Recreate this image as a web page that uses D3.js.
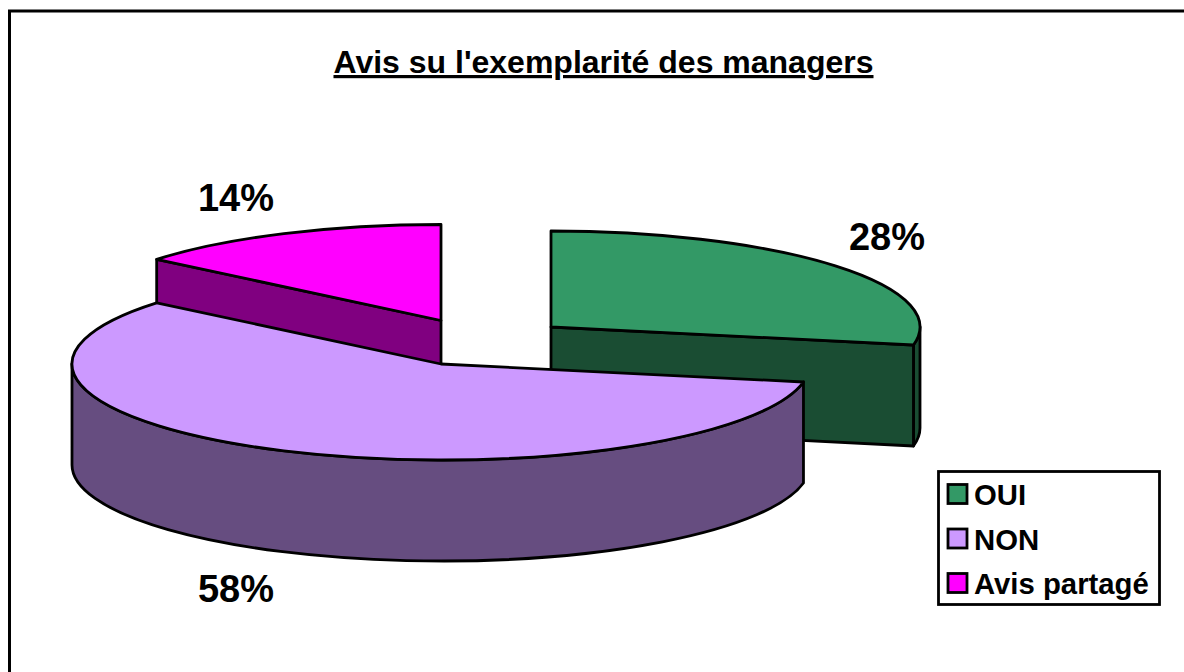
<!DOCTYPE html>
<html>
<head>
<meta charset="utf-8">
<script src="https://cdn.jsdelivr.net/npm/d3@7"></script>
<style>
  html, body { margin: 0; padding: 0; background: #fff; }
  svg { display: block; }
  text { font-family: "Liberation Sans", Arial, sans-serif; font-weight: bold; fill: #000; }
</style>
</head>
<body>
<div id="chart"></div>
<script>
// chart values
const categories = ["OUI", "NON", "Avis partagé"];
const percents = [28, 58, 14];
const chartTitle = "Avis su l'exemplarité des managers";

// colours, one per slice
const topColors = ["#339966", "#CC99FF", "#FF00FF"];
const sideColors = ["#1A4D33", "#664D80", "#800080"];

const width = 1184, height = 672;
const rx = 369, ry = 96, depth = 101;

// slice apex on screen, slices are pulled apart in the original
const centers = [[551, 327], [441, 364], [441, 320.5]];
const labelPos = [[887, 237], [236, 589], [236, 198]];
const drawOrder = [0, 2, 1];

const svg = d3.select("#chart").append("svg")
    .attr("width", width)
    .attr("height", height);

// frame, only top and left are inside the picture
svg.append("path")
    .attr("d", `M9.5,${height}V11H${width}`)
    .attr("fill", "none")
    .attr("stroke", "#000")
    .attr("stroke-width", 3);

svg.append("text")
    .attr("x", 603.5)
    .attr("y", 73)
    .attr("text-anchor", "middle")
    .style("font-size", "32px")
    .style("text-decoration", "underline")
    .text(chartTitle);

// same angles as d3.arc: 0 at the top, clockwise
const slices = d3.pie().sort(null)(percents);

function rim(c, t, dy = 0) {
    return [c[0] + rx * Math.sin(t), c[1] + dy - ry * Math.cos(t)];
}

function ellipseTo(c, t0, t1, dy = 0) {
    const p = rim(c, t1, dy);
    const large = Math.abs(t1 - t0) > Math.PI ? 1 : 0;
    const sweep = t1 > t0 ? 1 : 0;
    return `A${rx},${ry} 0 ${large} ${sweep} ${p[0]},${p[1]}`;
}

const pie = svg.append("g")
    .attr("stroke", "#000")
    .attr("stroke-width", 2.8)
    .attr("stroke-linejoin", "round");

drawOrder.forEach(i => {
    const s = slices[i], c = centers[i];

    // outer wall, only the part facing the viewer
    const a = Math.max(s.startAngle, Math.PI / 2);
    const b = Math.min(s.endAngle, Math.PI * 1.5);
    if (b > a) {
        const p = rim(c, a);
        const q = rim(c, b, depth);
        pie.append("path")
            .attr("fill", sideColors[i])
            .attr("d", `M${p}${ellipseTo(c, a, b)}L${q}${ellipseTo(c, b, a, depth)}Z`);
    }

    // cut faces that turn towards the viewer
    const faces = [];
    if (s.endAngle < Math.PI) faces.push(s.endAngle);
    if (s.startAngle > Math.PI) faces.push(s.startAngle);
    faces.forEach(t => {
        const p = rim(c, t);
        pie.append("path")
            .attr("fill", sideColors[i])
            .attr("d", `M${c}L${p}v${depth}L${c[0]},${c[1] + depth}Z`);
    });

    // top of the slice
    const p0 = rim(c, s.startAngle);
    pie.append("path")
        .attr("fill", topColors[i])
        .attr("d", `M${c}L${p0}${ellipseTo(c, s.startAngle, s.endAngle)}Z`);
});

svg.append("g").selectAll("text")
    .data(percents)
    .join("text")
    .attr("x", (d, i) => labelPos[i][0])
    .attr("y", (d, i) => labelPos[i][1] + 13)
    .attr("text-anchor", "middle")
    .style("font-size", "38px")
    .text(d => d + "%");

// legend
const legend = svg.append("g");
legend.append("rect")
    .attr("x", 938.5)
    .attr("y", 471.5)
    .attr("width", 221)
    .attr("height", 133)
    .attr("fill", "#fff")
    .attr("stroke", "#000")
    .attr("stroke-width", 2.8);

const legendY = d3.scalePoint().domain(categories).range([494, 583]);

legend.selectAll("rect.swatch")
    .data(categories)
    .join("rect")
    .attr("class", "swatch")
    .attr("x", 948)
    .attr("y", d => legendY(d) - 9.5)
    .attr("width", 19)
    .attr("height", 19)
    .attr("fill", (d, i) => topColors[i])
    .attr("stroke", "#000")
    .attr("stroke-width", 2.8);

legend.selectAll("text")
    .data(categories)
    .join("text")
    .attr("x", 974)
    .attr("y", d => legendY(d) + 11)
    .style("font-size", "29.3px")
    .text(d => d);
</script>
</body>
</html>
